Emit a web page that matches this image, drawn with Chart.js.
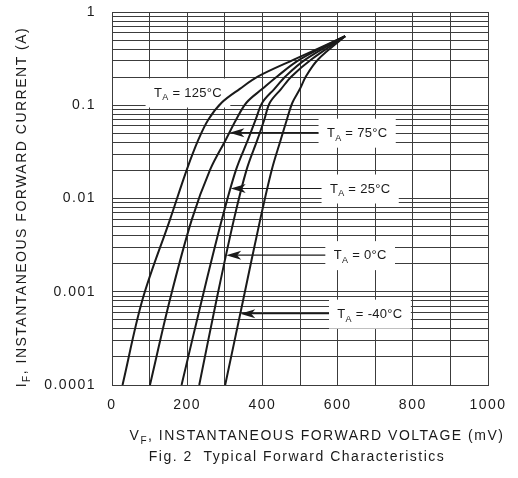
<!DOCTYPE html>
<html>
<head>
<meta charset="utf-8">
<script src="https://cdn.jsdelivr.net/npm/chart.js@4.4.0/dist/chart.umd.min.js"></script>
<style>
  html, body { margin: 0; padding: 0; background: #fff; }
  #wrap { width: 518px; height: 478px; }
</style>
</head>
<body>
<div id="wrap"><canvas id="fwdChart" width="518" height="478"></canvas></div>
<script>
// forward current levels (A) at which each curve was read
const currentA = [0.0001, 0.00082, 0.0059, 0.0204, 0.043, 0.070, 0.107, 0.15, 0.205, 0.31, 0.55];
// forward voltage (mV) for each temperature at those currents
const vf125 = [28, 81, 154, 199, 230, 256, 292, 340, 390, 485, 620];
const vf75 = [101, 154, 212, 261, 303, 330, 358, 400, 440, 500, 620];
const vf25 = [185, 239, 292, 330, 362, 382, 400, 432, 462, 515, 620];
const vf0 = [232, 278, 324, 358, 387, 405, 420, 450, 478, 530, 620];
const vfMinus40 = [301, 349, 394, 425, 449, 465, 480, 500, 516, 548, 620];

const tempLabels = ['125°C', '75°C', '25°C', '0°C', '-40°C'];
const xTickLabels = [0, 200, 400, 600, 800, 1000];
const yDecades = [0.0001, 0.001, 0.01, 0.1, 1];
const yTickLabels = ['0.0001', '0.001', '0.01', '0.1', '1'];

const series = [vf125, vf75, vf25, vf0, vfMinus40];

// where the T_A callouts sit (mV, A); arrow points at the curve at that current
const callouts = [
    { idx: 0, x: 202, y: 0.137, arrow: false },
    { idx: 1, x: 652, y: 0.0508, arrow: true },
    { idx: 2, x: 660, y: 0.0128, arrow: true },
    { idx: 3, x: 660, y: 0.00247, arrow: true },
    { idx: 4, x: 686, y: 0.000582, arrow: true }
];

const FONT = '"Liberation Sans", Arial, sans-serif';
const INK = '#1a1a1a';
const GRID = '#3c3c3c';

// all grid lines: 1..9 in every decade
const yGrid = [];
yDecades.forEach((d, i) => {
    if (i === yDecades.length - 1) { yGrid.push(d); return; }
    for (let k = 1; k <= 9; k++) yGrid.push(d * k);
});

const decadeLabel = (v) => {
    const i = yDecades.findIndex(d => Math.abs(v - d) / d < 1e-6);
    return i >= 0 ? yTickLabels[i] : '';
};

// voltage on a curve at a given current (log interpolation)
const voltageAt = (vals, amps) => {
    const la = Math.log10(amps);
    for (let k = 0; k < currentA.length - 1; k++) {
        const a = Math.log10(currentA[k]), b = Math.log10(currentA[k + 1]);
        if (la >= a && la <= b) return vals[k] + (la - a) / (b - a) * (vals[k + 1] - vals[k]);
    }
    return vals[0];
};

// text with a subscript: [main, sub, rest]
const subText = (ctx, parts, x, y, size, align) => {
    const [main, sub, rest] = parts;
    const big = size + 'px ' + FONT;
    const small = Math.round(size * 0.7) + 'px ' + FONT;
    ctx.font = big;
    const w1 = ctx.measureText(main).width;
    const w3 = ctx.measureText(rest).width;
    ctx.font = small;
    const w2 = ctx.measureText(sub).width;
    const total = w1 + w2 + w3;
    let sx = align === 'center' ? x - total / 2 : x;
    ctx.textAlign = 'left';
    ctx.textBaseline = 'alphabetic';
    ctx.font = big;
    ctx.fillText(main, sx, y);
    ctx.font = small;
    ctx.fillText(sub, sx + w1, y + size * 0.3);
    ctx.font = big;
    ctx.fillText(rest, sx + w1 + w2, y);
    return total;
};

const spacing = {
    id: 'spacing',
    beforeUpdate(chart) { chart.ctx.letterSpacing = '1.5px'; },
    beforeDraw(chart) { chart.ctx.letterSpacing = '1.5px'; }
};

const calloutPlugin = {
    id: 'callouts',
    beforeDatasetsDraw(chart) {
        const { ctx, scales: { x, y } } = chart;
        ctx.save();
        ctx.letterSpacing = '0.3px';
        callouts.forEach(c => {
            const cx = x.getPixelForValue(c.x);
            const cy = y.getPixelForValue(c.y);
            ctx.font = '13px ' + FONT;
            const parts = ['T', 'A', ' = ' + tempLabels[c.idx]];
            const w = ctx.measureText('T = ' + tempLabels[c.idx]).width + 7;
            const boxL = cx - w / 2 - 8, boxW = w + 16;
            ctx.fillStyle = '#fff';
            ctx.fillRect(boxL, cy - 14, boxW, 29);
            ctx.fillStyle = INK;
            subText(ctx, parts, cx, cy + 4, 13, 'center');
            if (c.arrow) {
                const tipX = x.getPixelForValue(voltageAt(series[c.idx], c.y));
                ctx.strokeStyle = INK;
                ctx.lineWidth = 1.2;
                ctx.beginPath();
                ctx.moveTo(tipX + 10, cy);
                ctx.lineTo(boxL, cy);
                ctx.stroke();
                ctx.beginPath();
                ctx.moveTo(tipX, cy);
                ctx.lineTo(tipX + 15, cy - 4.5);
                ctx.lineTo(tipX + 11, cy);
                ctx.lineTo(tipX + 15, cy + 4.5);
                ctx.closePath();
                ctx.fill();
            }
        });
        ctx.restore();
    },
    afterDraw(chart) {
        const { ctx } = chart;
        ctx.save();
        ctx.fillStyle = INK;
        subText(ctx, ['V', 'F', ', INSTANTANEOUS FORWARD VOLTAGE (mV)'], 317, 440, 14, 'center');
        ctx.font = '14px ' + FONT;
        ctx.textAlign = 'center';
        ctx.fillText('Fig. 2  Typical Forward Characteristics', 297, 461);
        ctx.translate(26, 207);
        ctx.rotate(-Math.PI / 2);
        subText(ctx, ['I', 'F', ', INSTANTANEOUS FORWARD CURRENT (A)'], 0, 0, 14, 'center');
        ctx.restore();
    }
};

new Chart(document.getElementById('fwdChart'), {
    type: 'line',
    data: {
        datasets: series.map((vals, i) => ({
            label: 'TA = ' + tempLabels[i],
            data: vals.map((v, k) => ({ x: v, y: currentA[k] })),
            borderColor: INK,
            borderWidth: 2,
            pointRadius: 0,
            fill: false,
            tension: 0.35
        }))
    },
    options: {
        responsive: false,
        animation: false,
        layout: { padding: { left: 0, top: 12, right: 30, bottom: 0 } },
        plugins: { legend: { display: false }, tooltip: { enabled: false } },
        scales: {
            x: {
                type: 'linear',
                min: 0,
                max: 1000,
                afterFit: (s) => { s.height = 93; s.paddingLeft = 0; s.paddingRight = 0; },
                ticks: {
                    stepSize: 100,
                    autoSkip: false,
                    maxRotation: 0,
                    padding: 12,
                    color: INK,
                    font: { family: FONT, size: 14 },
                    callback: (v) => xTickLabels.includes(v) ? String(v) : ''
                },
                grid: { color: GRID, lineWidth: 1, drawTicks: false },
                border: { color: GRID, width: 1 }
            },
            y: {
                type: 'logarithmic',
                min: 0.0001,
                max: 1,
                afterFit: (s) => { s.width = 112; s.paddingTop = 0; s.paddingBottom = 0; },
                afterBuildTicks: (s) => { s.ticks = yGrid.map(v => ({ value: v })); },
                ticks: {
                    autoSkip: false,
                    padding: 16,
                    color: INK,
                    font: { family: FONT, size: 14 },
                    callback: (v) => decadeLabel(v)
                },
                grid: { color: GRID, lineWidth: 1, drawTicks: false },
                border: { color: GRID, width: 1 }
            }
        }
    },
    plugins: [spacing, calloutPlugin]
});
</script>
</body>
</html>
